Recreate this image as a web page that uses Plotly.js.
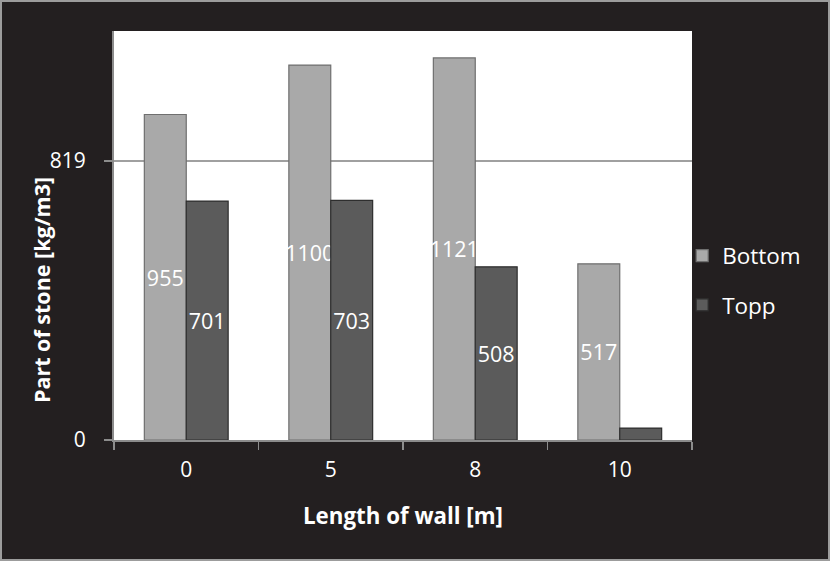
<!DOCTYPE html>
<html>
<head>
<meta charset="utf-8">
<script src="https://cdn.plot.ly/plotly-3.0.1.min.js"></script>
<style>
  html, body { margin: 0; padding: 0; background: #231f20; }
  #chart { width: 826px; height: 557px; border: 2px solid #9c9c9c; }
</style>
</head>
<body>
<div id="chart"></div>
<script>
// Wall length categories (m)
const lengths = ['0', '5', '8', '10'];
// Stone content (kg/m3) at the bottom and top of the wall
const bottomValues = [955, 1100, 1121, 517];
const toppValues = [701, 703, 508, 35];
// Y-axis ticks
const yTicks = [0, 819];

const FONT = '"Open Sans", "Liberation Sans", sans-serif';

// Labels only where a bar is tall enough to hold them
const labelFor = v => (v >= 100 ? String(v) : '');

const common = {
  type: 'bar',
  x: lengths,
  textposition: 'inside',
  insidetextanchor: 'middle',
  constraintext: 'none',
  textangle: 0,
  insidetextfont: { family: FONT, size: 21.5, color: '#ffffff' },
  hoverinfo: 'none'
};

const traces = [
  Object.assign({}, common, {
    name: 'Bottom',
    legendgroup: 'b',
    y: bottomValues,
    text: bottomValues.map(labelFor),
    marker: { color: '#a9a9a9', line: { color: '#6f6f6f', width: 1.2 } }
  }),
  Object.assign({}, common, {
    name: 'Topp',
    legendgroup: 't',
    y: toppValues,
    text: toppValues.map(labelFor),
    marker: { color: '#5b5b5b', line: { color: '#2e2e2e', width: 1.2 } }
  })
];

const layout = {
  width: 826,
  height: 557,
  margin: { l: 112, r: 136, t: 29, b: 119, pad: 0 },
  paper_bgcolor: '#231f20',
  plot_bgcolor: '#ffffff',
  font: { family: FONT, size: 21, color: '#ffffff' },
  barmode: 'group',
  bargap: 0.42,
  bargroupgap: 0,
  showlegend: true,
  legend: {
    x: 0.983, xanchor: 'left',
    y: 0.39, yanchor: 'middle',
    bgcolor: 'rgba(0,0,0,0)',
    font: { family: FONT, size: 22.5, color: '#ffffff' },
    tracegroupgap: 17,
    traceorder: 'grouped'
  },
  xaxis: {
    type: 'category',
    tickson: 'boundaries',
    ticks: 'outside',
    ticklen: 8,
    tickwidth: 1.5,
    tickcolor: '#8c8c8c',
    showline: true,
    linecolor: '#8c8c8c',
    linewidth: 2,
    showgrid: false,
    ticklabelstandoff: 10,
    tickfont: { family: FONT, size: 21, color: '#ffffff' },
    fixedrange: true
  },
  yaxis: {
    range: [0, 1200],
    tickvals: yTicks,
    ticktext: yTicks.map(String),
    ticks: 'outside',
    ticklen: 8,
    tickwidth: 1.5,
    tickcolor: '#8c8c8c',
    showline: true,
    linecolor: '#8c8c8c',
    linewidth: 2,
    showgrid: true,
    gridcolor: '#a0a0a0',
    gridwidth: 1.5,
    zeroline: false,
    ticklabelstandoff: 14,
    tickfont: { family: FONT, size: 21, color: '#ffffff' },
    fixedrange: true
  },
  annotations: [
    {
      text: '<b>Length of wall [m]</b>',
      xref: 'paper', yref: 'paper',
      x: 0.5, y: -0.184, xanchor: 'center', yanchor: 'middle',
      showarrow: false,
      font: { family: FONT, size: 22.3, color: '#ffffff' }
    },
    {
      text: '<b>Part of stone [kg/m3]</b>',
      xref: 'paper', yref: 'paper',
      x: -0.125, y: 0.366, xanchor: 'center', yanchor: 'middle',
      textangle: -90,
      showarrow: false,
      font: { family: FONT, size: 21.5, color: '#ffffff' }
    }
  ]
};

Plotly.newPlot('chart', traces, layout, { displayModeBar: false, staticPlot: true });
</script>
</body>
</html>
